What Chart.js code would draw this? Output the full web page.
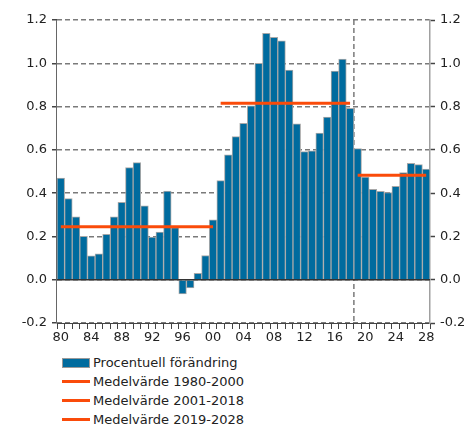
<!DOCTYPE html>
<html>
<head>
<meta charset="utf-8">
<script src="https://cdn.jsdelivr.net/npm/chart.js@4/dist/chart.umd.min.js"></script>
<style>
  body { margin: 0; background: #fff; font-family: "DejaVu Sans", sans-serif; }
  #wrap { position: relative; width: 471px; height: 426px; }
  #chart-box { position: absolute; left: 0; top: 0; width: 471px; height: 345px; }
  #legend { position: absolute; left: 62px; top: 353px; font-size: 13px; color: #222; }
  .item { height: 19px; display: flex; align-items: center; }
  .swatch { display: inline-block; width: 28px; margin-right: 3px; }
  .bar-sw { height: 8px; background: #006b9e; border: 1px solid #999; width: 26px; }
  .line-sw { height: 3px; background: #fa4b0a; }
</style>
</head>
<body>
<div id="wrap">
  <div id="chart-box"><canvas id="c"></canvas></div>
  <div id="legend">
    <div class="item"><span class="swatch bar-sw"></span>Procentuell förändring</div>
    <div class="item"><span class="swatch line-sw"></span>Medelvärde 1980-2000</div>
    <div class="item"><span class="swatch line-sw"></span>Medelvärde 2001-2018</div>
    <div class="item"><span class="swatch line-sw"></span>Medelvärde 2019-2028</div>
  </div>
</div>
<script>
const years = [];
for (let y = 1980; y <= 2028; y++) years.push(y);

const change = [
  0.47, 0.375, 0.29, 0.20, 0.11, 0.12, 0.21, 0.29, 0.357, 0.518,
  0.541, 0.341, 0.197, 0.22, 0.41, 0.241, -0.066, -0.038, 0.029, 0.112,
  0.277, 0.458, 0.577, 0.661, 0.723, 0.803, 1.0, 1.138, 1.12, 1.104,
  0.969, 0.72, 0.592, 0.595, 0.677, 0.751, 0.964, 1.02, 0.792, 0.606,
  0.474, 0.418, 0.408, 0.403, 0.431, 0.495, 0.538, 0.532, 0.511
];

const mean1980 = 0.245;
const mean2001 = 0.815;
const mean2019 = 0.483;

const yTicks = [-0.2, 0.0, 0.2, 0.4, 0.6, 0.8, 1.0, 1.2];

function meanSeries(value, from, to) {
  return years.map(y => (y >= from && y <= to) ? value : null);
}

const blue = '#006b9e';
const orange = '#fa4b0a';
const gridGray = '#7a7a7a';
const axisGray = '#a0a0a0';
const tickFont = { family: 'DejaVu Sans', size: 13 };

// zero line, left axis line and forecast divider
const extras = {
  id: 'extras',
  beforeDatasetsDraw(chart) {
    const { ctx, chartArea, scales } = chart;
    const x = (scales.x.getPixelForValue(38) + scales.x.getPixelForValue(39)) / 2;
    ctx.save();
    ctx.strokeStyle = gridGray;
    ctx.lineWidth = 1.5;
    ctx.setLineDash([5, 3]);
    ctx.beginPath();
    ctx.moveTo(x, chartArea.top);
    ctx.lineTo(x, chartArea.bottom);
    ctx.stroke();
    ctx.restore();
  },
  afterDatasetsDraw(chart) {
    const { ctx, chartArea, scales } = chart;
    const y0 = scales.y.getPixelForValue(0);
    ctx.save();
    ctx.strokeStyle = '#333';
    ctx.lineWidth = 1.5;
    ctx.beginPath();
    ctx.moveTo(chartArea.left, y0);
    ctx.lineTo(chartArea.right, y0);
    ctx.stroke();
    ctx.strokeStyle = '#666';
    ctx.lineWidth = 1;
    ctx.beginPath();
    ctx.moveTo(chartArea.left - 0.5, chartArea.top);
    ctx.lineTo(chartArea.left - 0.5, chartArea.bottom);
    ctx.stroke();
    ctx.restore();
  }
};

const yCommon = {
  min: -0.2,
  max: 1.2,
  afterBuildTicks: axis => { axis.ticks = yTicks.map(v => ({ value: v })); },
  ticks: { color: '#222', font: tickFont, padding: 5, callback: v => v.toFixed(1) }
};

new Chart(document.getElementById('c'), {
  data: {
    labels: years,
    datasets: [
      { type: 'line', data: meanSeries(mean1980, 1980, 2000), borderColor: orange, borderWidth: 3, pointRadius: 0, order: 0 },
      { type: 'line', data: meanSeries(mean2001, 2001, 2018), borderColor: orange, borderWidth: 3, pointRadius: 0, order: 0 },
      { type: 'line', data: meanSeries(mean2019, 2019, 2028), borderColor: orange, borderWidth: 3, pointRadius: 0, order: 0 },
      { type: 'bar', data: change, backgroundColor: blue, borderColor: '#a8a8a8', borderWidth: 1,
        categoryPercentage: 1.0, barPercentage: 1.0, order: 1 }
    ]
  },
  options: {
    responsive: true,
    maintainAspectRatio: false,
    animation: false,
    layout: { padding: { top: 20, right: 0, left: 0, bottom: 0 } },
    plugins: { legend: { display: false }, tooltip: { enabled: false } },
    scales: {
      x: {
        ticks: {
          color: '#222', font: tickFont, autoSkip: false, maxRotation: 0, padding: 1,
          callback: (v, i) => i % 4 === 0 ? String(years[i] % 100).padStart(2, '0') : ''
        },
        grid: { offset: true, drawOnChartArea: false, tickLength: 6, tickColor: '#444', tickWidth: 1 },
        border: { color: '#444', width: 1 },
        afterFit: axis => { axis.height = 22; }
      },
      y: Object.assign({}, yCommon, {
        position: 'left',
        grid: { color: gridGray, lineWidth: 1.5, tickLength: 5, tickColor: '#444', tickWidth: 1.5, tickBorderDash: [] },
        border: { display: false, dash: [5, 3] },
        afterFit: axis => { axis.width = 57; }
      }),
      y2: Object.assign({}, yCommon, {
        position: 'right',
        grid: { drawOnChartArea: false, tickLength: 5, tickColor: '#444', tickWidth: 1.5 },
        border: { color: axisGray, width: 1.5 },
        afterFit: axis => { axis.width = 41; }
      })
    }
  },
  plugins: [extras]
});
</script>
</body>
</html>
